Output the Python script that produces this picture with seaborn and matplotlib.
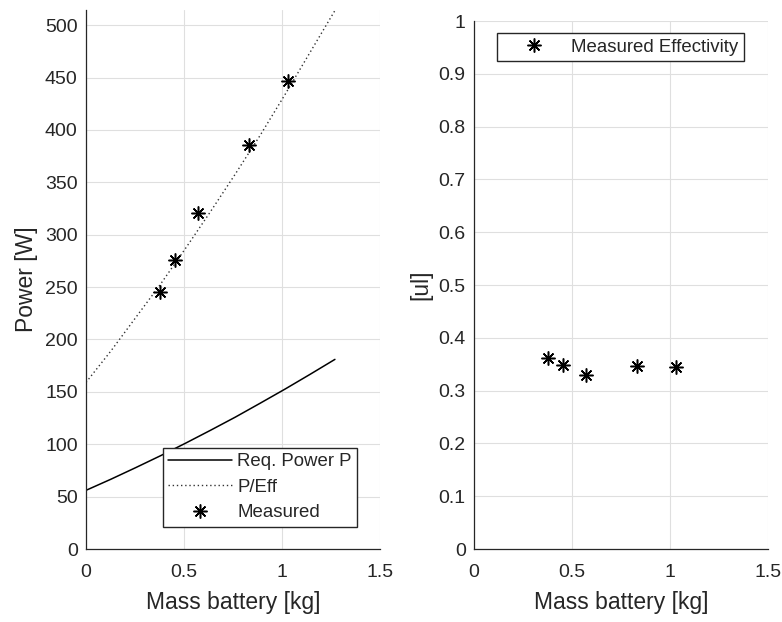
import numpy as np
import pandas as pd
import matplotlib
matplotlib.use("Agg")
import matplotlib.pyplot as plt
import seaborn as sns

# ---- data ----
mass_curve = [0.0, 0.127, 0.254, 0.381, 0.508, 0.635, 0.762, 0.889, 1.016, 1.143, 1.27]
req_power = [56, 66.6, 77.7, 89.1, 101.0, 113.3, 125.9, 139.2, 152.7, 166.7, 181]
p_over_eff = [159, 189, 221, 253, 287, 322, 358, 395, 434, 474, 514]

mass_measured = [0.38, 0.455, 0.573, 0.832, 1.031]
power_measured = [245, 275.5, 320.5, 386, 447]
eff_measured = [0.361, 0.348, 0.330, 0.346, 0.344]

x_ticks = [0, 0.5, 1, 1.5]
x_ticklabels = ["0", "0.5", "1", "1.5"]
y1_ticks = list(range(0, 501, 50))
y2_ticks = [round(0.1 * i, 1) for i in range(11)]
y2_ticklabels = ["0", "0.1", "0.2", "0.3", "0.4", "0.5", "0.6", "0.7", "0.8", "0.9", "1"]

sns.set_style("white")
plt.rcParams["font.family"] = ["Liberation Sans", "DejaVu Sans"]

TXT = "#262626"
GRID = "#dfdfdf"
W, H = 782, 622

fig = plt.figure(figsize=(W / 100, H / 100), dpi=100)
fig.patch.set_facecolor("white")
ax1 = fig.add_axes([86 / W, 1 - 549 / H, 294 / W, 539 / H])
ax2 = fig.add_axes([474 / W, 1 - 549 / H, 294 / W, 528 / H])

curve = pd.DataFrame({"m": mass_curve, "P": req_power, "PE": p_over_eff})
meas = pd.DataFrame({"m": mass_measured, "P": power_measured, "E": eff_measured})

star = (8, 2, 0)

sns.lineplot(data=curve, x="m", y="P", ax=ax1, color="k", linewidth=1.1,
             estimator=None, sort=False, label="Req. Power P")
sns.lineplot(data=curve, x="m", y="PE", ax=ax1, color="#333333", linewidth=1.0,
             linestyle=(0, (1, 2)), estimator=None, sort=False, label="P/Eff")
sns.lineplot(data=meas, x="m", y="P", ax=ax1, color="k", linestyle="",
             marker=star, markersize=10, markeredgecolor="k", markeredgewidth=1.1,
             estimator=None, sort=False, label="Measured")

sns.lineplot(data=meas, x="m", y="E", ax=ax2, color="k", linestyle="",
             marker=star, markersize=10, markeredgecolor="k", markeredgewidth=1.1,
             estimator=None, sort=False, label="Measured Effectivity")

for ax in (ax1, ax2):
    ax.set_xlim(0, 1.5)
    ax.set_xticks(x_ticks)
    ax.set_xticklabels(x_ticklabels)
    ax.grid(True, color=GRID, linewidth=0.8)
    ax.set_axisbelow(True)
    for s in ("top", "right"):
        ax.spines[s].set_visible(False)
    for s in ("left", "bottom"):
        ax.spines[s].set_color(TXT)
        ax.spines[s].set_linewidth(0.9)
    ax.tick_params(direction="in", length=4.3, width=0.8, color=TXT,
                   labelsize=14, labelcolor=TXT)
    ax.tick_params(axis="x", pad=11)
    ax.tick_params(axis="y", pad=6)
    ax.set_xlabel("Mass battery [kg]", fontsize=16.5, color=TXT, labelpad=7)

ax1.set_ylim(0, 514.5)
ax1.set_yticks(y1_ticks)
ax1.set_ylabel("Power [W]", fontsize=16.5, color=TXT, labelpad=5)

ax2.set_ylim(0, 1)
ax2.set_yticks(y2_ticks)
ax2.set_yticklabels(y2_ticklabels)
ax2.set_ylabel("[ul]", fontsize=16.5, color=TXT, labelpad=4)

leg_kw = dict(fontsize=13.4, frameon=True, fancybox=False, framealpha=1,
              edgecolor=TXT, borderpad=0.3, labelspacing=0.46,
              handlelength=3.4, handletextpad=0.3, borderaxespad=0,
              bbox_transform=fig.transFigure)
l1 = ax1.legend(loc="lower left", bbox_to_anchor=(162.7 / W, 1 - 527 / H), **leg_kw)
l2 = ax2.legend(loc="upper left", bbox_to_anchor=(497 / W, 1 - 33 / H), **leg_kw)
for l in (l1, l2):
    l.get_frame().set_linewidth(1.0)
    for t in l.get_texts():
        t.set_color(TXT)

fig.savefig("out.png", dpi=100, facecolor="white")
